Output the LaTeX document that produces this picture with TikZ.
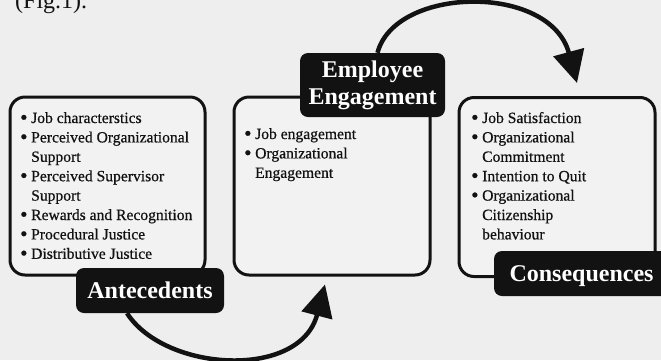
\documentclass[tikz,border=0pt]{standalone}
\usepackage{fontspec}
\setmainfont{Liberation Serif}
\newfontfamily\listfont[FakeBold=0.6]{Liberation Serif}
\usetikzlibrary{arrows.meta}

\definecolor{paper}{RGB}{238,238,238}
\definecolor{boxfill}{RGB}{242,242,242}
\definecolor{ink}{RGB}{18,18,18}

% bullet and continuation indent for the list lines
\newcommand{\itembul}{\makebox[11pt][l]{\raisebox{-1.3pt}{\fontsize{21}{21}\selectfont\textbullet}}}
\newcommand{\itemcont}{\hspace*{11pt}}

\begin{document}
\begin{tikzpicture}[x=1pt,y=-1pt,
  panel/.style={draw=ink, line width=3pt, rounded corners=15pt, fill=boxfill,
    inner sep=0pt},
  tag/.style={fill=ink, rounded corners=8pt, text=white, align=center,
    inner sep=0pt, font=\fontsize{24}{27}\selectfont\bfseries},
  listtext/.style={anchor=base west, inner sep=0pt, text=ink,
    font=\listfont\fontsize{15.6}{19.4}\selectfont},
  flow/.style={draw=ink, line width=4.5pt,
    -{Triangle[length=32pt,width=31pt]}},
]
\clip (0,0) rectangle (661,360);
\fill[paper] (0,0) rectangle (661,360);

% heading fragment at the top
\node[anchor=base west, inner sep=0pt, text=ink,
  font=\fontsize{24}{24}\selectfont] (figref) at (15,8) {(Fig.1).};

% the three panels
\node[panel, minimum width=195pt, minimum height=178pt] (box1) at (107.5,186) {};
\node[panel, minimum width=196pt, minimum height=178pt] (box2) at (332,186) {};
\node[panel, minimum width=196pt, minimum height=179pt] (box3) at (557,187) {};

% panel contents
\node[listtext] (list1) at (20,123) {\parbox[t]{190pt}{%
  \itembul Job characterstics\\
  \itembul Perceived Organizational\\
  \itemcont Support\\
  \itembul Perceived Supervisor\\
  \itemcont Support\\
  \itembul Rewards and Recognition\\
  \itembul Procedural Justice\\
  \itembul Distributive Justice}};

\node[listtext] (list2) at (244,139) {\parbox[t]{180pt}{%
  \itembul Job engagement\\
  \itembul Organizational\\
  \itemcont Engagement}};

\node[listtext] (list3) at (471,123) {\parbox[t]{180pt}{%
  \itembul Job Satisfaction\\
  \itembul Organizational\\
  \itemcont Commitment\\
  \itembul Intention to Quit\\
  \itembul Organizational\\
  \itemcont Citizenship\\
  \itemcont behaviour}};

% black title tags
\node[tag, minimum width=148pt, minimum height=45pt, text depth=0pt]
  (ant) at (150,290.5) {Antecedents};
\node[tag, minimum width=145pt, minimum height=64pt]
  (ee) at (372.5,85) {Employee\\Engagement};
\node[tag, minimum width=175pt, minimum height=45pt, text depth=0pt]
  (cons) at (581.5,273.5) {Consequences};

% curved flow arrows
\draw[flow] ([xshift=-23pt]ant.south)
  .. controls (165,372) and (300,380) .. ([xshift=-7pt,yshift=-8pt]box2.south);
\draw[flow] ([xshift=5pt]ee.north)
  .. controls (395,-14) and (550,-17) .. ([xshift=20pt,yshift=13pt]box3.north);
\end{tikzpicture}
\end{document}
